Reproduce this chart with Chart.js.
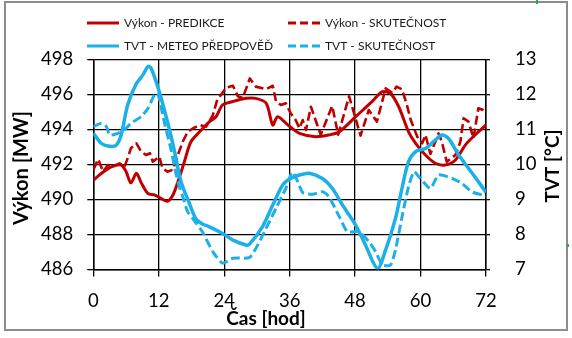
<!DOCTYPE html>
<html><head><meta charset="utf-8">
<script src="https://cdn.jsdelivr.net/npm/chart.js@4/dist/chart.umd.min.js"></script>
<style>html,body{margin:0;padding:0;background:#fff;}#wrap{width:572px;height:338px;position:relative;}</style>
</head><body><div id="wrap"><canvas id="c" width="572" height="338"></canvas></div>
<script>
// ---- data ----
const seriesNames = ['Výkon - PREDIKCE','Výkon - SKUTEČNOST','TVT - METEO PŘEDPOVĚĎ','TVT - SKUTEČNOST'];
const axisTitleX = 'Čas [hod]';
const axisTitleLeft = 'Výkon [MW]';
const axisTitleRight = 'TVT [°C]';

const predHours = [0,1.5,3.3,5.1,6,6.9,7.9,8.8,10,11.2,12.4,13.6,14.6,15.5,16.7,17.9,19.5,21.3,22.5,23.7,25.6,28,29.8,31.7,32.9,33.8,35.9,37.8,40.8,43.2,45.1,48.1,51.1,53,54.5,56,57.8,59.1,60.9,62.7,64.5,66.4,68.2,70,72];
const predMW    = [491.1,491.5,491.87,491.97,491.6,490.95,491.5,490.95,490.35,490.26,490.07,489.9,490.26,491.0,492.16,493.3,493.87,494.45,494.73,495.4,495.6,495.78,495.78,495.5,494.26,494.73,494.2,493.78,493.59,493.69,493.87,494.73,495.59,496.16,496.05,495.3,493.87,493.21,492.54,492.07,491.97,492.26,493.11,493.69,494.26];

const realHours = [0,0.9,1.8,2.7,3.6,4.8,5.7,6.3,6.9,7.9,8.8,9.7,10.4,10.9,12.1,12.7,13.6,14.6,15.5,16.4,17.3,18.3,19.5,20.7,21.9,22.8,23.4,24.4,25.6,26.5,27.4,28.7,29.8,31.7,32.9,33.5,34.4,35.3,36.2,37.1,37.8,38.4,39,39.9,41.7,43.8,44.9,46.9,49,50.5,52,53.6,54.8,55.6,56.6,57.5,58.2,59.4,60.3,60.9,61.8,62.7,63.3,63.9,64.8,66.4,67.3,67.9,68.8,69.7,70.6,71.5,72];
const realMW    = [491.7,492.3,491.6,491.97,491.87,492.07,491.87,492.35,492.93,493.21,492.73,492.54,492.64,492.16,492.45,491.78,491.59,491.7,492.54,493.3,493.87,494.07,494.26,494.16,494.8,495.78,495.97,496.4,496.5,495.9,495.8,496.92,496.45,496.3,496.5,495.6,495.4,495.5,494.92,494.54,494.07,494.54,493.97,495.3,493.7,495.35,493.7,495.9,493.65,495.11,494.45,496.35,496.1,496.45,496.3,495.4,494.54,493.59,493.21,493.69,492.6,493.3,493.78,493.3,492.16,492.54,493.3,494.64,494.45,493.5,495.21,495.11,495.0];

const fcHours = [0,1.5,3,4.2,5.1,6.3,7.85,9.1,10,10.6,12.1,13.6,14.9,16.1,17.5,18.8,20,21.3,23.7,25.6,28,28.6,31,32.9,34.7,35.9,37.8,39.6,42,43.8,45.7,48.1,49.9,52.1,53.6,55.4,56.6,57.8,59.1,60.9,62.7,63.9,65.1,67,68.8,70.6,72];
const fcTemp  = [10.9,10.6,10.52,10.55,10.84,11.7,12.3,12.56,12.8,12.75,12.08,11.22,10.37,9.5,8.94,8.45,8.3,8.22,8.03,7.84,7.7,7.72,8.22,8.84,9.41,9.58,9.7,9.75,9.6,9.32,8.84,8.27,7.7,7.03,7.56,8.46,9.32,10.08,10.37,10.46,10.7,10.84,10.75,10.27,9.89,9.51,9.2];

const obsHours = [0,1.5,2.4,3,4.5,5.7,6.9,8.8,10,11.2,11.8,13,14.2,15.5,16.7,17.3,18.5,20,21.9,23.7,25.6,28.6,29.8,31.7,33.5,35.3,36.5,37.5,38.4,40.2,42,43.2,45.1,46.6,48.7,50.5,51.8,53,54.5,55.4,56.6,57.8,58.8,59.7,61.8,63.3,65.8,67.6,69.4,72];
const obsTemp  = [11.08,11.18,11.08,10.84,10.89,10.99,11.18,11.37,11.6,11.99,12.05,11.22,10.46,9.51,8.94,8.65,8.4,8.08,7.51,7.18,7.32,7.34,7.6,8.18,8.75,9.32,9.78,9.5,9.2,9.15,9.22,9.08,8.51,8.08,8.08,7.8,7.5,7.13,7.13,7.56,8.5,9.37,9.8,9.65,9.32,9.7,9.6,9.46,9.22,9.1];

const xTickValues = [0,12,24,36,48,60,72];
const leftRange = [486,498], rightRange = [7,13];

// ---- build ----
const pts = (xs, ys) => xs.map((x,i)=>({x, y: ys[i]}));
const RED = '#C00000', BLUE = '#1CB0E8';
const FONT = 'Lato, "Open Sans", sans-serif';

const datasets = [
  {label: seriesNames[0], data: pts(predHours,predMW), yAxisID:'y', borderColor:RED, borderWidth:3, tension:0.3, order:3},
  {label: seriesNames[1], data: pts(realHours,realMW), yAxisID:'y', borderColor:RED, borderWidth:2.6, borderDash:[9,4], tension:0, order:2},
  {label: seriesNames[2], data: pts(fcHours,fcTemp), yAxisID:'y2', borderColor:BLUE, borderWidth:3.5, tension:0.3, order:0},
  {label: seriesNames[3], data: pts(obsHours,obsTemp), yAxisID:'y2', borderColor:BLUE, borderWidth:3, borderDash:[9,4], tension:0.2, order:1},
];

const legendSlots = [[87,23],[288,23],[87,46],[288,46]];

const decor = {
  id:'decor',
  beforeDraw(chart){
    const ctx = chart.ctx;
    ctx.save();
    ctx.fillStyle='#fff'; ctx.fillRect(0,0,chart.width,chart.height);
    ctx.strokeStyle='#8c8c8c'; ctx.lineWidth=2; ctx.strokeRect(5,2,562,328);
    ctx.fillStyle='#1fae4a'; ctx.fillRect(536,0,2,4); ctx.fillRect(567,244,2,3);
    ctx.restore();
  },
  afterDraw(chart){
    const ctx = chart.ctx;
    ctx.save();
    // legend
    chart.data.datasets.forEach((ds,i)=>{
      const [lx,ly] = legendSlots[i];
      ctx.strokeStyle = ds.borderColor; ctx.lineWidth = 3;
      ctx.setLineDash(ds.borderDash ? [8,4] : []);
      ctx.beginPath(); ctx.moveTo(lx,ly); ctx.lineTo(lx+32,ly); ctx.stroke();
      ctx.setLineDash([]);
      ctx.fillStyle='#1a1a1a'; ctx.font = '12px '+FONT;
      ctx.textAlign='left'; ctx.textBaseline='middle';
      ctx.fillText(ds.label, lx+37, ly);
    });
    // axis titles
    ctx.fillStyle='#000'; ctx.font='bold 19px '+FONT;
    ctx.textAlign='center'; ctx.textBaseline='middle';
    ctx.fillText(axisTitleX, 266, 319);
    ctx.font='bold 20px '+FONT;
    ctx.save(); ctx.translate(22,168); ctx.rotate(-Math.PI/2); ctx.fillText(axisTitleLeft,0,0); ctx.restore();
    ctx.font='bold 19px '+FONT;
    ctx.save(); ctx.translate(553,166); ctx.rotate(-Math.PI/2); ctx.fillText(axisTitleRight,0,0); ctx.restore();
    ctx.restore();
  }
};

const tickFont = {family: FONT, size: 18.5};
new Chart(document.getElementById('c'), {
  type:'line',
  data:{datasets},
  options:{
    responsive:false, animation:false,
    layout:{padding:{top:59.5, left:0, right:0, bottom:0}},
    elements:{point:{radius:0}, line:{borderCapStyle:'butt', borderJoinStyle:'round'}},
    plugins:{legend:{display:false}, tooltip:{enabled:false}},
    scales:{
      x:{type:'linear', min:0, max:72,
         afterBuildTicks(s){ s.ticks = xTickValues.map(v=>({value:v})); },
         afterFit(s){ s.height = 68.5; },
         ticks:{color:'#000', font:tickFont, padding:13, maxRotation:0},
         grid:{color:'#000', lineWidth:1.3, tickLength:7},
         border:{color:'#000', width:1.5}},
      y:{position:'left', min:leftRange[0], max:leftRange[1],
         ticks:{stepSize:2, color:'#000', font:tickFont, padding:14},
         afterFit(s){ s.width = 93.3; },
         grid:{color:'#000', lineWidth:1.3, tickLength:6},
         border:{color:'#000', width:1.5}},
      y2:{position:'right', min:rightRange[0], max:rightRange[1],
         ticks:{stepSize:1, color:'#000', font:tickFont, padding:25},
         afterFit(s){ s.width = 86; },
         grid:{drawOnChartArea:false, color:'#000', lineWidth:1.3, tickLength:4},
         border:{color:'#000', width:1.5}}
    }
  },
  plugins:[decor]
});
</script></body></html>
